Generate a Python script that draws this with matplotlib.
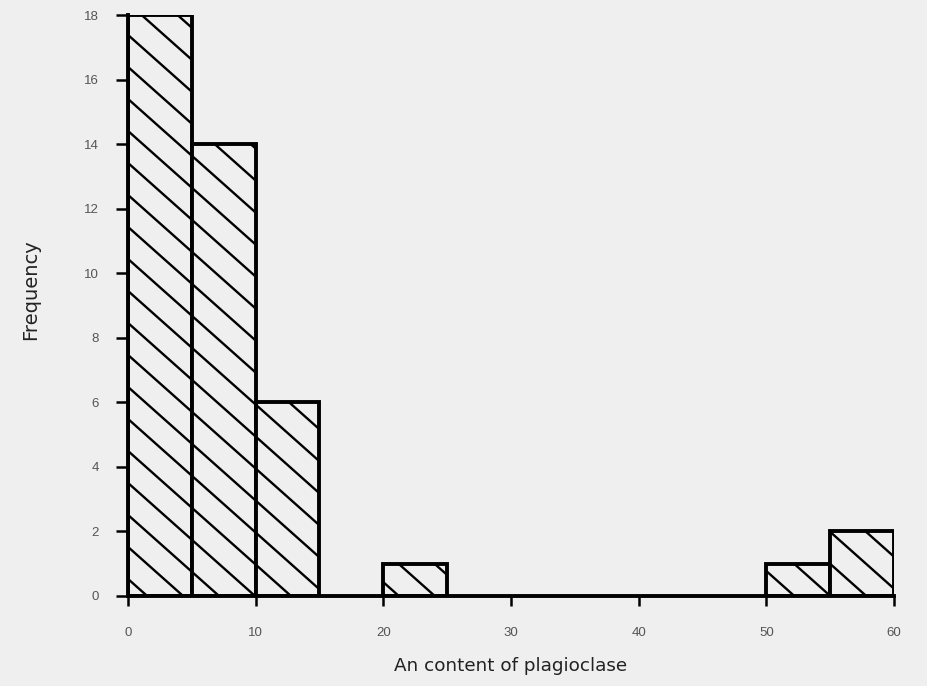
import matplotlib
matplotlib.use("Agg")
import matplotlib.pyplot as plt
from matplotlib.lines import Line2D
from matplotlib.transforms import IdentityTransform
import numpy as np

bin_left = [0, 5, 10, 15, 20, 25, 30, 35, 40, 45, 50, 55]
counts = [18, 14, 6, 0, 1, 0, 0, 0, 0, 0, 1, 2]
bin_width = 5
xticks = [0, 10, 20, 30, 40, 50, 60]
yticks = [0, 2, 4, 6, 8, 10, 12, 14, 16, 18]

BG = '#efefef'
DPI = 100
W, H = 928, 686
plt.rcParams['font.family'] = ['Liberation Sans', 'DejaVu Sans']
fig = plt.figure(figsize=(W / DPI, H / DPI), dpi=DPI, facecolor=BG)
ax = fig.add_axes([128 / W, 1 - 596 / H, (894 - 128) / W, (596 - 15) / H])
ax.set_facecolor(BG)
ax.set_xlim(0, 60)
ax.set_ylim(0, 18)

lefts = [l for l, c in zip(bin_left, counts) if c > 0]
heights = [c for c in counts if c > 0]
bars = ax.bar(lefts, heights, width=bin_width, align='edge', facecolor=BG,
              edgecolor='black', linewidth=2.8, zorder=3)

# sparse diagonal hatching (wider spacing than matplotlib's built-in hatch)
slope = 0.89      # pixel slope of hatch lines (downward to the right)
spacing = 32.0    # vertical pixel spacing between hatch lines
phase = 145.0
for bar in bars:
    bb = bar.get_window_extent()
    x0, x1, y0, y1 = bb.x0, bb.x1, bb.y0, bb.y1
    cmin = (H - y1) - slope * x1
    cmax = (H - y0) - slope * x0
    k0 = int(np.floor((cmin - phase) / spacing))
    k1 = int(np.ceil((cmax - phase) / spacing))
    for k in range(k0, k1 + 1):
        c = phase + k * spacing
        xs = np.array([x0 - 5, x1 + 5])
        ys = H - (slope * xs + c)
        ln = Line2D(xs, ys, color='black', linewidth=1.7,
                    transform=IdentityTransform(), zorder=3.5)
        ln.set_clip_path(bar)
        fig.add_artist(ln)

ax.set_xticks(xticks)
ax.set_yticks(yticks)
ax.tick_params(axis='both', direction='out', colors='black', width=1.8,
               labelsize=9.5, labelcolor='#555555')
ax.tick_params(axis='x', length=7, pad=15)
ax.tick_params(axis='y', length=9, pad=12)
for s in ['top', 'right']:
    ax.spines[s].set_visible(False)
for s in ['left', 'bottom']:
    ax.spines[s].set_linewidth(2.8)
    ax.spines[s].set_zorder(4)

ax.set_xlabel('An content of plagioclase', fontsize=13.2, color='#222222',
              va='center', family='DejaVu Sans')
ax.xaxis.set_label_coords((511 - 128) / (894 - 128), -(666 - 596) / (596 - 15))
ax.set_ylabel('Frequency', fontsize=14, color='#222222', va='center',
              family='DejaVu Sans')
ax.yaxis.set_label_coords(-(128 - 31) / (894 - 128), (596 - 290) / (596 - 15))

fig.savefig('out.png', dpi=DPI, facecolor=BG)
